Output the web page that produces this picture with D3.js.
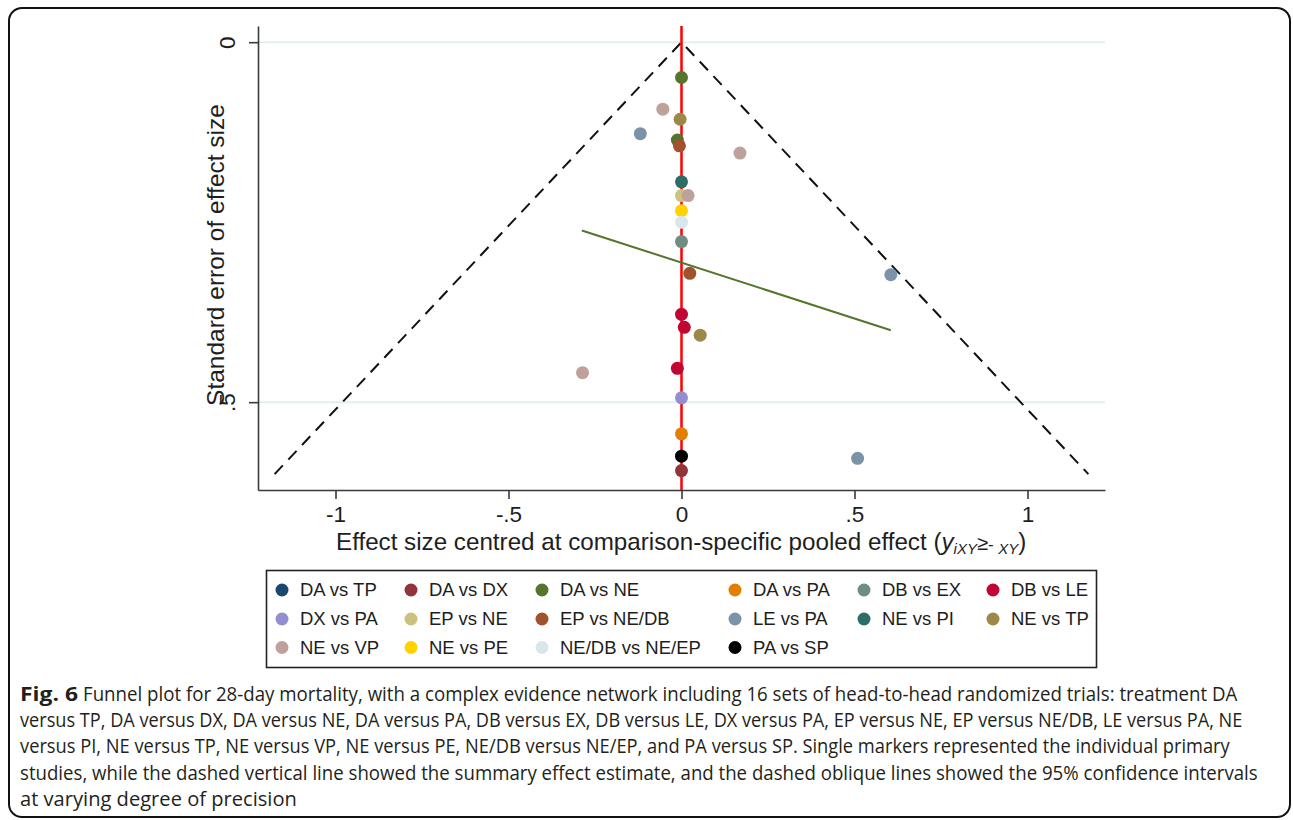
<!DOCTYPE html>
<html>
<head>
<meta charset="utf-8">
<script src="https://cdn.jsdelivr.net/npm/d3@7"></script>
<style>
  html, body { margin: 0; padding: 0; background: #fff; }
  svg { display: block; }
</style>
</head>
<body>
<svg id="chart" width="1293" height="820"></svg>
<script>
// ---------------- DATA ----------------
const comparisons = ["DA vs TP","DA vs DX","DA vs NE","DA vs PA","DB vs EX","DB vs LE",
  "DX vs PA","EP vs NE","EP vs NE/DB","LE vs PA","NE vs PI","NE vs TP",
  "NE vs VP","NE vs PE","NE/DB vs NE/EP","PA vs SP"];
const comparisonColors = ["#1a476f","#90353b","#55752f","#e37e00","#6e8e84","#c10534",
  "#938dd2","#cac27e","#a0522d","#7b92a8","#2d6d66","#9c8847",
  "#bfa19c","#ffd200","#d9e6eb","#000000"];

// individual studies: comparison, centred effect size, standard error
const studyComparison = ["DA vs NE","NE vs VP","NE vs TP","LE vs PA","DA vs NE","EP vs NE/DB",
  "NE vs VP","NE vs PI","EP vs NE","NE vs VP","NE vs PE","NE/DB vs NE/EP",
  "DB vs EX","EP vs NE/DB","LE vs PA","DB vs LE","DB vs LE","NE vs TP",
  "NE vs VP","DB vs LE","DX vs PA","DA vs PA","PA vs SP","DA vs DX","LE vs PA"];
const studyEffect = [0.000,-0.054,-0.004,-0.119,-0.012,-0.006,
  0.169,0.000,0.000,0.019,0.000,0.000,
  0.000,0.024,0.605,0.000,0.008,0.054,
  -0.286,-0.012,0.000,0.000,0.000,0.000,0.509];
const studySE = [0.049,0.093,0.107,0.127,0.136,0.144,
  0.154,0.194,0.213,0.213,0.234,0.250,
  0.277,0.321,0.323,0.378,0.396,0.407,
  0.459,0.453,0.494,0.544,0.575,0.595,0.578];

// regression line (effect, SE) end points
const lineEffect = [-0.288, 0.605];
const lineSE = [0.2615, 0.400];

// funnel (95% CI) limits
const funnelMaxSE = 0.6;
const z95 = 1.96;

const xTicks = [-1, -0.5, 0, 0.5, 1];
const xTickLabels = ["-1", "-.5", "0", ".5", "1"];
const yTicks = [0, 0.5];
const yTickLabels = ["0", ".5"];

const captionLines = [
  "Funnel plot for 28-day mortality, with a complex evidence network including 16 sets of head-to-head randomized trials: treatment DA",
  "versus TP, DA versus DX, DA versus NE, DA versus PA, DB versus EX, DB versus LE, DX versus PA, EP versus NE, EP versus NE/DB, LE versus PA, NE",
  "versus PI, NE versus TP, NE versus VP, NE versus PE, NE/DB versus NE/EP, and PA versus SP. Single markers represented the individual primary",
  "studies, while the dashed vertical line showed the summary effect estimate, and the dashed oblique lines showed the 95% confidence intervals",
  "at varying degree of precision"
];

// ---------------- DRAW ----------------
(function () {
const svg = d3.select("#chart");
const FONT = "'Liberation Sans', Arial, sans-serif";
const TXT = "#1e1e1e";

// outer frame
svg.append("rect").attr("x", 9).attr("y", 8).attr("width", 1281).attr("height", 809)
  .attr("rx", 13).attr("fill", "none").attr("stroke", "#111").attr("stroke-width", 2);

const pL = 258, pR = 1105, pT = 26, pB = 490;
const x = d3.scaleLinear().domain([-1.224, 1.224]).range([pL, pR]);
const y = d3.scaleLinear().domain([-0.0225, 0.622]).range([pT, pB]);
const color = d3.scaleOrdinal().domain(comparisons).range(comparisonColors);

// gridlines
svg.append("g").selectAll("line").data(yTicks).join("line")
  .attr("x1", pL).attr("x2", pR)
  .attr("y1", d => y(d)).attr("y2", d => y(d))
  .attr("stroke", "#e3eef0").attr("stroke-width", 2);

// funnel lines
const funnel = [[-z95 * funnelMaxSE, funnelMaxSE], [0, 0], [z95 * funnelMaxSE, funnelMaxSE]];
svg.append("path")
  .attr("d", d3.line().x(d => x(d[0])).y(d => y(d[1]))(funnel))
  .attr("fill", "none").attr("stroke", "#111").attr("stroke-width", 2)
  .attr("stroke-dasharray", "12,8");

// pooled effect line
svg.append("line")
  .attr("x1", x(0)).attr("x2", x(0)).attr("y1", pT).attr("y2", pB)
  .attr("stroke", "#ff0000").attr("stroke-width", 2.5);

// regression line
svg.append("line")
  .attr("x1", x(lineEffect[0])).attr("y1", y(lineSE[0]))
  .attr("x2", x(lineEffect[1])).attr("y2", y(lineSE[1]))
  .attr("stroke", "#55752f").attr("stroke-width", 2);

// markers (drawn in series order)
const studies = studyEffect.map((e, i) => ({c: studyComparison[i], e, se: studySE[i]}))
  .map((d, i) => ({...d, k: comparisons.indexOf(d.c) * 100 + i}))
  .sort((a, b) => a.k - b.k);
svg.append("g").selectAll("circle").data(studies).join("circle")
  .attr("cx", d => x(d.e)).attr("cy", d => y(d.se)).attr("r", 6.5)
  .attr("fill", d => color(d.c));

// axes
const xAxis = svg.append("g").attr("transform", `translate(0,${pB})`)
  .call(d3.axisBottom(x).tickValues(xTicks).tickFormat((d, i) => xTickLabels[i])
    .tickSize(9).tickSizeOuter(0).tickPadding(7));
xAxis.select(".domain").attr("stroke", "#3a3a3a").attr("stroke-width", 1.6);
xAxis.selectAll(".tick line").attr("stroke", "#3a3a3a").attr("stroke-width", 1.6);
xAxis.selectAll(".tick text").attr("font-family", FONT).attr("font-size", 22.5).attr("fill", TXT);

const yAxis = svg.append("g").attr("transform", `translate(${pL},0)`)
  .call(d3.axisLeft(y).tickValues(yTicks).tickFormat((d, i) => yTickLabels[i])
    .tickSize(9).tickSizeOuter(0));
yAxis.select(".domain").attr("stroke", "#3a3a3a").attr("stroke-width", 1.6);
yAxis.selectAll(".tick line").attr("stroke", "#3a3a3a").attr("stroke-width", 1.6);
yAxis.selectAll(".tick text")
  .attr("font-family", FONT).attr("font-size", 22.5).attr("fill", TXT)
  .attr("x", null).attr("dy", null)
  .attr("text-anchor", "middle")
  .attr("transform", "translate(-23,0) rotate(-90)");

// axis titles
svg.append("text").attr("transform", "translate(224,255) rotate(-90)")
  .attr("text-anchor", "middle").attr("font-family", FONT).attr("font-size", 24.5).attr("fill", TXT)
  .text("Standard error of effect size");

const xt = svg.append("text").attr("x", 336).attr("y", 550)
  .attr("font-family", FONT).attr("font-size", 24.2).attr("fill", TXT);
xt.append("tspan").text("Effect size centred at comparison-specific pooled effect (");
xt.append("tspan").attr("font-style", "italic").text("y");
xt.append("tspan").attr("font-style", "italic").attr("font-size", 15).attr("dy", 4).text("iXY");
xt.append("tspan").attr("font-size", 20).attr("dy", -4).text("\u2265");
xt.append("tspan").attr("font-size", 17).text("- ");
xt.append("tspan").attr("font-style", "italic").attr("font-size", 15).attr("dy", 4).text("XY");
xt.append("tspan").attr("dy", -4).text(")");

// legend
svg.append("rect").attr("x", 266.5).attr("y", 570.5).attr("width", 830).attr("height", 97)
  .attr("fill", "none").attr("stroke", "#222").attr("stroke-width", 1.6);
const colX = [282, 411, 542, 735, 864, 993];
const rowY = [590, 619, 647.5];
const leg = svg.append("g").selectAll("g").data(comparisons).join("g")
  .attr("transform", (d, i) => `translate(${colX[i % 6]},${rowY[Math.floor(i / 6)]})`);
leg.append("circle").attr("r", 6.5).attr("fill", d => color(d));
leg.append("text").attr("x", 18).attr("dy", "0.35em")
  .attr("font-family", FONT).attr("font-size", 18.5).attr("fill", TXT).text(d => d);

// caption: condensed by horizontal scaling to the reference line widths
const CFONT = "'Open Sans', 'Noto Sans', sans-serif";
const CCOL = "#231f20";
function fitText(el, x0, y0, width) {
  const w = el.node().getComputedTextLength();
  el.attr("transform", `translate(${x0},${y0}) scale(${width / w},1)`);
}
const fig = svg.append("text").attr("font-family", CFONT).attr("font-size", 20)
  .attr("font-weight", "bold").attr("fill", CCOL).text("Fig. 6");
fitText(fig, 20, 701, 58);
const capStart = [83, 20, 20, 20, 20];
const capWidths = [1155, 1223, 1210, 1238, 277];
svg.append("g").selectAll("text").data(captionLines).join("text")
  .attr("font-family", CFONT).attr("font-size", 20).attr("fill", CCOL)
  .text(d => d)
  .each(function (d, i) { fitText(d3.select(this), capStart[i], 701 + i * 26.2, capWidths[i]); });
})();
</script>
</body>
</html>
